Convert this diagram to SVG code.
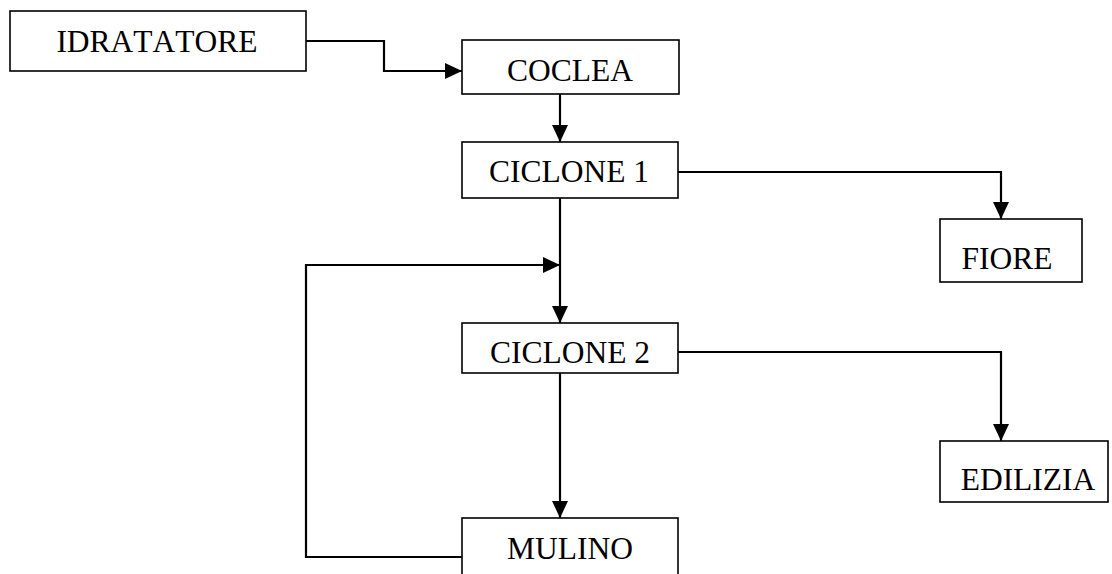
<svg xmlns="http://www.w3.org/2000/svg" width="1112" height="574" viewBox="0 0 1112 574">
<defs>
<marker id="ah" markerUnits="userSpaceOnUse" markerWidth="17" markerHeight="16" refX="17" refY="8" orient="auto">
<path d="M0,0 L17,8 L0,16 z" fill="#000"/>
</marker>
<style>
.box{fill:#fff;stroke:#000;stroke-width:1.6}
.lbl{font-family:"Liberation Serif","Times New Roman",serif;font-size:31.5px;fill:#000;text-anchor:middle;font-kerning:none}
.con{fill:none;stroke:#000;stroke-width:2.2;marker-end:url(#ah)}
</style>
</defs>
<rect width="1112" height="574" fill="#fff"/>
<g id="connectors">
<path class="con" d="M306,41 H384 V71 H462"/>
<path class="con" d="M560,94 V142"/>
<path class="con" d="M678,172 H1001 V219"/>
<path class="con" d="M560,198 V323"/>
<path class="con" d="M462,557 H306 V265 H560"/>
<path class="con" d="M678,352 H1001 V441"/>
<path class="con" d="M560,373 V518"/>
</g>
<g id="idratatore">
<rect class="box" x="10" y="11" width="296" height="60"/>
<text class="lbl" x="157" y="52">IDRATATORE</text>
</g>
<g id="coclea">
<rect class="box" x="462" y="40" width="217" height="54"/>
<text class="lbl" x="570" y="81">COCLEA</text>
</g>
<g id="ciclone1">
<rect class="box" x="462" y="142" width="216" height="56"/>
<text class="lbl" x="569" y="182">CICLONE 1</text>
</g>
<g id="fiore">
<rect class="box" x="940" y="219" width="142" height="63"/>
<text class="lbl" x="1007" y="269">FIORE</text>
</g>
<g id="ciclone2">
<rect class="box" x="462" y="323" width="216" height="50"/>
<text class="lbl" x="570" y="363">CICLONE 2</text>
</g>
<g id="edilizia">
<rect class="box" x="940" y="441" width="168" height="61"/>
<text class="lbl" x="1028" y="490">EDILIZIA</text>
</g>
<g id="mulino">
<rect class="box" x="462" y="518" width="216" height="70"/>
<text class="lbl" x="570" y="559">MULINO</text>
</g>
</svg>
